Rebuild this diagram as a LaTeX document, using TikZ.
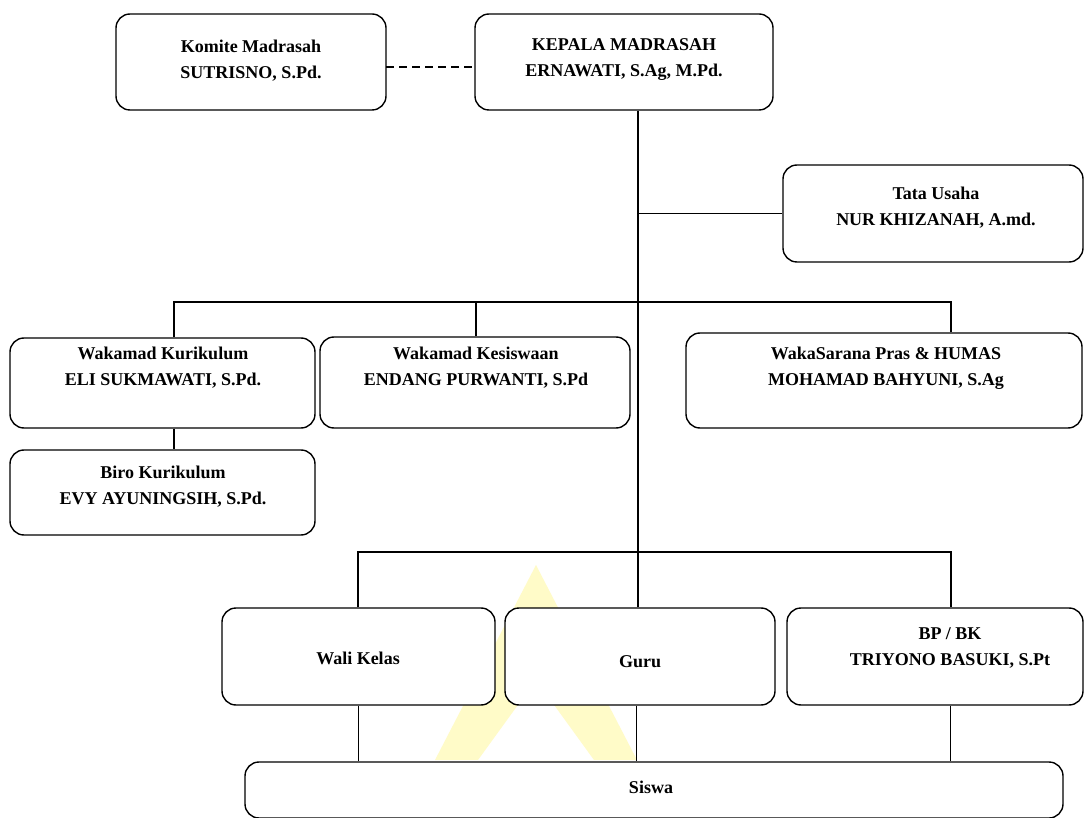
\documentclass[tikz,border=0pt]{standalone}
\usepackage{fontspec}
\setmainfont{Liberation Serif}
\usetikzlibrary{calc}
\definecolor{wmyellow}{RGB}{255,251,200}
\tikzset{
  box/.style={draw, fill=white, rounded corners=14pt, line width=1.4pt, inner sep=0pt},
  txt/.style={font=\bfseries\fontsize{18}{26}\selectfont, align=center, inner sep=0pt},
  link/.style={line width=1.2pt},
}
\begin{document}
\begin{tikzpicture}[x=1pt,y=-1pt]
\useasboundingbox (0,0) rectangle (1085,818);
\fill[white] (0,0) rectangle (1085,818);

% pale logo in the background
\fill[wmyellow, even odd rule]
  (536,565) -- (435,760) -- (637,760) -- cycle
  (536,680) -- (478,760) -- (594,760) -- cycle;

% boxes
\node[box, minimum width=270pt, minimum height=96pt] (komite) at (251,62) {};
\node[box, minimum width=298pt, minimum height=96pt] (kepala) at (624,62) {};
\node[box, minimum width=300pt, minimum height=97pt] (tata) at (933,213.5) {};
\node[box, minimum width=305pt, minimum height=90pt] (kur) at (162.5,383) {};
\node[box, minimum width=310pt, minimum height=91pt] (kes) at (475,382.5) {};
\node[box, minimum width=396pt, minimum height=95pt] (sar) at (884,380.5) {};
\node[box, minimum width=305pt, minimum height=85pt] (biro) at (162.5,492.5) {};
\node[box, minimum width=273pt, minimum height=97pt] (wali) at (358.5,656.5) {};
\node[box, minimum width=270pt, minimum height=97pt] (guru) at (640,656.5) {};
\node[box, minimum width=296pt, minimum height=97pt] (bp) at (935,656.5) {};
\node[box, minimum width=818pt, minimum height=56pt] (siswa) at (654,790) {};

% labels
\node[txt] (komite-t) at (251,61) {Komite Madrasah\\SUTRISNO, S.Pd.};
\node[txt] (kepala-t) at (624,60) {KEPALA MADRASAH\\ERNAWATI, S.Ag, M.Pd.};
\node[txt] (tata-t) at (936,207.5) {Tata Usaha\\NUR KHIZANAH, A.md.};
\node[txt] (kur-t) at (163,368) {Wakamad Kurikulum\\ELI SUKMAWATI, S.Pd.};
\node[txt] (kes-t) at (476,368) {Wakamad Kesiswaan\\ENDANG PURWANTI, S.Pd};
\node[txt] (sar-t) at (886,368) {WakaSarana Pras \& HUMAS\\MOHAMAD BAHYUNI, S.Ag};
\node[txt] (biro-t) at (163,486.5) {Biro Kurikulum\\EVY AYUNINGSIH, S.Pd.};
\node[txt] (wali-t) at (358,658) {Wali Kelas};
\node[txt] (guru-t) at (640,662) {Guru};
\node[txt] (bp-t) at (950,647.5) {BP / BK\\TRIYONO BASUKI, S.Pt};
\node[txt] (siswa-t) at (651,787) {Siswa};

% junction points
\coordinate (dl) at (386,67);
\coordinate (j1) at (638,302);
\coordinate (j2) at (638,552);
\coordinate (b1) at (174,302);
\coordinate (b3) at (951,302);
\coordinate (c1) at (358,552);
\coordinate (c3) at (951,552);

% connectors
\draw[link, dashed, dash pattern=on 8pt off 5pt] (dl) -- (dl -| kepala.west);
\draw[link] (kepala.south -| j1) -- (j2);
\draw[link] (tata.west -| j1) -- (tata.west);
\draw[link] (kur.north -| b1) -- (b1) -- (b3) -- (sar.north -| b3);
\draw[link] (kes.north -| 476,0) -- (476,302);
\draw[link] (kur.south -| b1) -- (biro.north -| b1);
\draw[link] (wali.north -| c1) -- (c1) -- (c3) -- (bp.north -| c3);
\draw[link] (guru.north -| j2) -- (j2);
\draw[link, line width=1pt] (wali.south -| c1) -- (siswa.north -| c1);
\draw[link, line width=1pt] (guru.south -| 636,0) -- (siswa.north -| 636,0);
\draw[link, line width=1pt] (bp.south -| 950,0) -- (siswa.north -| 950,0);
\end{tikzpicture}
\end{document}
